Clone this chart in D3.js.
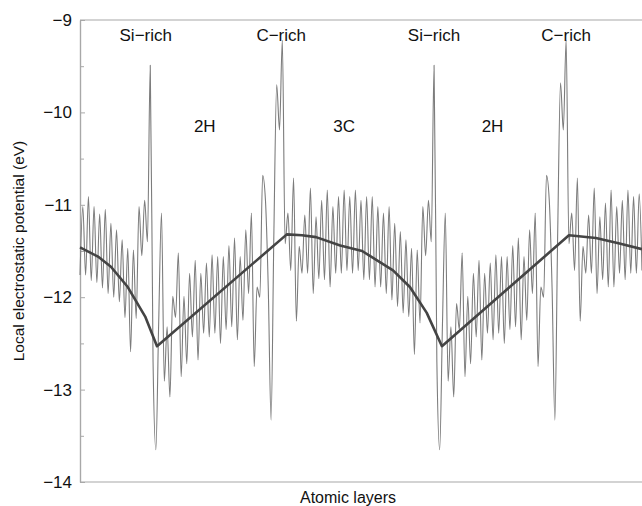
<!DOCTYPE html>
<html>
<head>
<meta charset="utf-8">
<script src="https://cdn.jsdelivr.net/npm/d3@7"></script>
<style>
  body { margin: 0; background: #fff; }
  text { font-family: "Liberation Sans", Arial, Helvetica, sans-serif; fill: #111; }
</style>
</head>
<body>
<svg id="chart" width="642" height="506"></svg>
<script>
// local potential (eV), one reading every half atomic layer, 0 .. 100
var potential = [
  -11.76, -11.02, -11.76, -10.91, -11.82, -11.02, -11.84, -11.10, -11.90, -11.05,
  -11.96, -11.20, -12.00, -11.27, -12.05, -11.38, -12.22, -11.47, -12.59, -11.49,
  -12.23, -11.02, -11.55, -10.95, -11.40, -9.49, -12.70, -13.65, -12.28, -11.09,
  -12.91, -12.32, -13.08, -11.99, -12.22, -11.52, -12.86, -11.99, -12.72, -11.74,
  -12.43, -11.60, -12.68, -11.74, -12.39, -11.63, -12.43, -11.54, -12.39, -11.56,
  -12.50, -11.56, -12.35, -11.44, -12.32, -11.36, -12.46, -11.56, -12.25, -11.27,
  -11.96, -11.09, -12.75, -11.89, -12.00, -10.68, -10.95, -11.90, -13.33, -11.30,
  -9.70, -10.19, -9.22, -11.42, -11.09, -11.71, -10.71, -12.26, -11.45, -11.74,
  -11.11, -11.74, -10.82, -11.96, -11.13, -11.80, -10.95, -11.81, -10.84, -11.89,
  -11.02, -11.74, -10.91, -11.74, -10.84, -11.71, -10.91, -11.74, -10.84, -11.71,
  -10.95, -11.81, -10.91, -11.81, -10.91, -11.89, -11.02, -11.89, -11.09, -11.96,
  -11.02, -12.03, -11.20, -12.10, -11.29, -12.17, -11.38, -12.21, -11.47, -12.62,
  -11.49, -12.28, -11.02, -11.55, -10.95, -11.40, -9.49, -12.70, -13.65, -12.28,
  -11.09, -12.91, -12.32, -13.08, -12.07, -12.35, -11.52, -12.86, -11.99, -12.72,
  -11.74, -12.43, -11.60, -12.68, -11.74, -12.39, -11.63, -12.46, -11.54, -12.39,
  -11.56, -12.50, -11.56, -12.35, -11.44, -12.32, -11.36, -12.46, -11.56, -12.25,
  -11.27, -11.96, -11.09, -12.75, -11.89, -12.00, -10.68, -10.95, -11.90, -13.33,
  -11.30, -9.68, -10.19, -9.22, -11.42, -11.09, -11.71, -10.71, -12.26, -11.45,
  -11.74, -11.11, -11.74, -10.82, -11.96, -11.13, -11.81, -10.98, -11.89, -10.84,
  -11.89, -11.02, -11.74, -10.95, -11.81, -10.84, -11.74, -10.91, -11.74, -10.88,
  -11.71
];

// averaged potential (thick line)
var avgLayers = [0, 3.2, 5.5, 8.5, 11.6, 13.7, 36.8, 39.5, 42, 46.3, 50.2, 55.7, 58.7, 61.7, 64.4, 87, 91.8, 96, 100];
var avgPotential = [-11.46, -11.56, -11.67, -11.89, -12.21, -12.53, -11.32, -11.33, -11.35, -11.44, -11.50,
                    -11.71, -11.89, -12.17, -12.53, -11.33, -11.36, -11.42, -11.48];

var yMajor = [-9, -10, -11, -12, -13, -14];
var yMinor = [-9.5, -10.5, -11.5, -12.5, -13.5];

var interfaceNames = ["Si\u2212rich", "C\u2212rich", "Si\u2212rich", "C\u2212rich"];
var interfaceLayers = [11.7, 35.8, 63.0, 86.5];
var phaseNames = ["2H", "3C", "2H"];
var phaseLayers = [22.2, 47.0, 73.4];

var svg = d3.select("#chart");
var x = d3.scaleLinear().domain([0, 100]).range([80, 642]);
var y = d3.scaleLinear().domain([-14, -9]).range([482, 20]);

// frame lines top and bottom
svg.selectAll(".frame")
  .data([-9, -14])
  .enter().append("line")
    .attr("x1", x(0)).attr("x2", x(100))
    .attr("y1", function(d) { return y(d); })
    .attr("y2", function(d) { return y(d); })
    .style("stroke", "#a8a8a8")
    .style("stroke-width", 1.2);

// y axis, ticks pointing inward
var yAxis = svg.append("g")
  .attr("transform", "translate(" + x(0) + ",0)")
  .call(d3.axisLeft(y).tickValues(yMajor).tickFormat(d3.format("d"))
    .tickSizeInner(-5).tickSizeOuter(0).tickPadding(8));
yAxis.append("g")
  .call(d3.axisLeft(y).tickValues(yMinor).tickSizeInner(-4).tickSizeOuter(0).tickFormat(""));
yAxis.selectAll("path.domain").style("stroke", "#a8a8a8").style("stroke-width", 1.2);
yAxis.selectAll(".tick line").style("stroke", "#a8a8a8");
yAxis.selectAll(".tick text")
  .style("font-size", "17px")
  .style("font-family", "'Liberation Sans', Arial, sans-serif")
  .style("fill", "#111");

// raw potential
var line = d3.line()
  .curve(d3.curveMonotoneX)
  .x(function(d, i) { return x(i / 2); })
  .y(function(d) { return y(d); });
svg.append("path")
  .datum(potential)
  .attr("d", line)
  .style("fill", "none")
  .style("stroke", "#7c7c7c")
  .style("stroke-width", 1.1)
  .style("stroke-linejoin", "round");

// averaged potential
var avgLine = d3.line()
  .x(function(d) { return x(d); })
  .y(function(d, i) { return y(avgPotential[i]); });
svg.append("path")
  .datum(avgLayers)
  .attr("d", avgLine)
  .style("fill", "none")
  .style("stroke", "#444")
  .style("stroke-width", 2.6)
  .style("stroke-linejoin", "round");

// labels
svg.selectAll(".iface")
  .data(interfaceNames)
  .enter().append("text")
    .attr("x", function(d, i) { return x(interfaceLayers[i]); })
    .attr("y", y(-9.23))
    .attr("text-anchor", "middle")
    .style("font-size", "17px")
    .text(function(d) { return d; });

svg.selectAll(".phase")
  .data(phaseNames)
  .enter().append("text")
    .attr("x", function(d, i) { return x(phaseLayers[i]); })
    .attr("y", y(-10.21))
    .attr("text-anchor", "middle")
    .style("font-size", "17px")
    .text(function(d) { return d; });

svg.append("text")
  .attr("transform", "translate(24,251) rotate(-90)")
  .attr("text-anchor", "middle")
  .style("font-size", "15.5px")
  .text("Local electrostatic potential (eV)");

svg.append("text")
  .attr("x", 348)
  .attr("y", 503)
  .attr("text-anchor", "middle")
  .style("font-size", "16px")
  .text("Atomic layers");
</script>
</body>
</html>
